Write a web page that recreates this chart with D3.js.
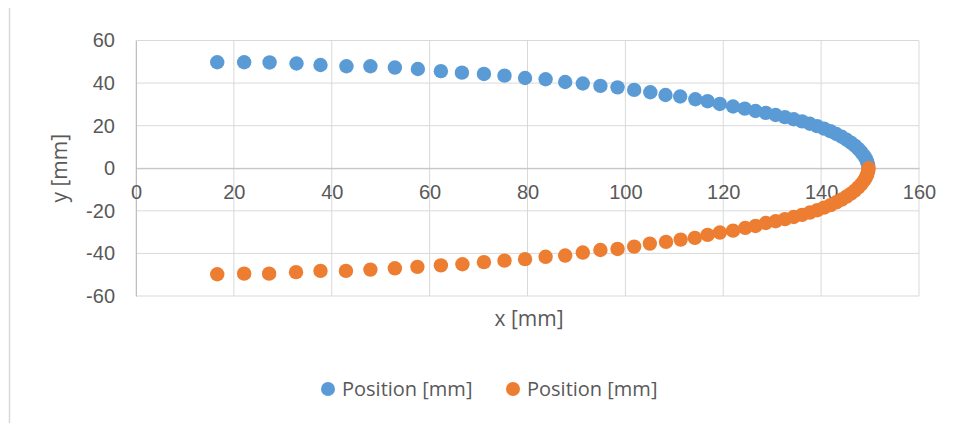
<!DOCTYPE html>
<html lang="en">
<head>
<meta charset="UTF-8">
<title>Position [mm]</title>
<script src="https://cdnjs.cloudflare.com/ajax/libs/d3/7.9.0/d3.min.js"></script>
<style>
  body{margin:0;background:#fff;overflow:hidden;}
  svg{display:block;font-family:"Open Sans",sans-serif;}
  .tick text{fill:#595959;font-size:20px;}
</style>
</head>
<body>
<div id="chart"></div>
<script>
/* ---------- data ---------- */
const seriesNames = ["Position [mm]", "Position [mm]"];
const xTicks = [0, 20, 40, 60, 80, 100, 120, 140, 160];
const yTicks = [-60, -40, -20, 0, 20, 40, 60];

const blueX = [16.6,22.1,27.3,32.8,37.7,43.0,47.9,52.9,57.6,62.3,66.6,71.1,75.3,79.5,83.7,87.7,91.3,94.9,98.4,101.8,
               105.1,108.2,111.2,114.3,116.8,119.3,122.0,124.4,126.6,128.7,130.7,132.6,134.4,136.1,137.7,139.2,140.6,
               141.9,143.1,144.2,145.2,146.1,146.9,147.6,148.2,148.7,149.1,149.4,149.6];
const blueY = [49.8,49.8,49.7,49.2,48.5,47.9,47.9,47.3,46.6,45.6,44.9,44.3,43.5,42.4,41.8,40.5,39.8,38.7,38.0,36.8,
               35.7,34.4,33.7,32.4,31.5,30.2,29.0,28.0,26.9,26.0,25.0,24.0,23.0,22.0,20.9,19.8,18.6,
               17.4,16.1,14.8,13.4,12.0,10.6,9.1,7.6,6.1,4.6,3.1,1.6];

const orangeX = [16.6,22.1,27.2,32.7,37.7,42.9,47.9,52.9,57.5,62.3,66.7,71.1,75.3,79.5,83.7,87.7,91.3,94.9,98.4,101.8,
                 105.0,108.3,111.3,114.2,116.8,119.3,122.0,124.5,126.6,128.7,130.7,132.6,134.4,136.1,137.7,139.2,140.6,
                 141.9,143.1,144.2,145.2,146.1,146.9,147.6,148.2,148.7,149.1,149.4,149.6,149.7];
const orangeY = [-49.8,-49.5,-49.5,-48.8,-48.2,-48.2,-47.6,-47.0,-46.3,-45.6,-45.1,-44.1,-43.4,-42.7,-41.6,-41.0,-39.6,-38.4,-37.9,-36.8,
                 -35.4,-34.6,-33.5,-32.7,-31.3,-30.2,-29.3,-28.0,-27.1,-25.7,-24.9,-23.9,-22.9,-21.9,-20.8,-19.7,-18.5,
                 -17.3,-16.0,-14.7,-13.3,-11.9,-10.5,-9.0,-7.5,-6.0,-4.5,-3.0,-1.5,0.0];

const colors = ["#5B9BD5", "#ED7D31"];

/* ---------- layout ---------- */
const W = 956, H = 423;
const plot = {left:136, right:919, top:40.5, bottom:296};

const svg = d3.select("#chart").append("svg")
    .attr("width", W).attr("height", H);

// outer chart frame (only the left edge is visible in the crop)
svg.append("line")
    .attr("x1", 9.5).attr("x2", 9.5).attr("y1", 8).attr("y2", H)
    .attr("stroke", "#d9d9d9").attr("stroke-width", 1.5);

const x = d3.scaleLinear().domain([0, 160]).range([plot.left, plot.right]);
const y = d3.scaleLinear().domain([-60, 60]).range([plot.bottom, plot.top]);

// gridlines
svg.append("g")
  .selectAll("line.gx").data(xTicks).enter().append("line")
    .attr("x1", d => x(d)).attr("x2", d => x(d))
    .attr("y1", plot.top).attr("y2", plot.bottom)
    .attr("stroke", "#d9d9d9").attr("stroke-width", 1);
svg.append("g")
  .selectAll("line.gy").data(yTicks).enter().append("line")
    .attr("x1", plot.left).attr("x2", plot.right)
    .attr("y1", d => y(d)).attr("y2", d => y(d))
    .attr("stroke", "#d9d9d9").attr("stroke-width", 1);

// axes (plain hyphen for negatives, like the original)
const fmt = d => String(d);
const yAxis = svg.append("g")
    .attr("transform", `translate(${plot.left},0)`)
    .call(d3.axisLeft(y).tickValues(yTicks).tickFormat(fmt).tickSize(0).tickPadding(21));
yAxis.select(".domain").attr("stroke", "#bfbfbf");

const xAxis = svg.append("g")
    .attr("transform", `translate(0,${y(0)})`)
    .call(d3.axisBottom(x).tickValues(xTicks).tickFormat(fmt).tickSize(0).tickPadding(21));
xAxis.select(".domain").attr("stroke", "#bfbfbf");
xAxis.selectAll(".tick text").attr("dy", "0.5em");

// axis titles
svg.append("text")
    .attr("x", 529).attr("y", 326)
    .attr("text-anchor", "middle").attr("fill", "#595959").attr("font-size", 21)
    .text("x [mm]");
svg.append("text")
    .attr("transform", `translate(67,${y(0)}) rotate(-90)`)
    .attr("text-anchor", "middle").attr("fill", "#595959").attr("font-size", 21)
    .text("y [mm]");

// points
const series = [
  blueX.map((v, i) => ({x: v, y: blueY[i]})),
  orangeX.map((v, i) => ({x: v, y: orangeY[i]}))
];
series.forEach((pts, s) => {
  svg.append("g").selectAll("circle").data(pts).enter().append("circle")
      .attr("cx", d => x(d.x)).attr("cy", d => y(d.y))
      .attr("r", 7.2).attr("fill", colors[s]);
});

// legend
const legendX = [328, 513];
const legend = svg.append("g");
seriesNames.forEach((name, i) => {
  legend.append("circle")
      .attr("cx", legendX[i]).attr("cy", 389).attr("r", 7)
      .attr("fill", colors[i]);
  legend.append("text")
      .attr("x", legendX[i] + 14).attr("y", 396)
      .attr("fill", "#595959").attr("font-size", 20)
      .text(name);
});
</script>
</body>
</html>
